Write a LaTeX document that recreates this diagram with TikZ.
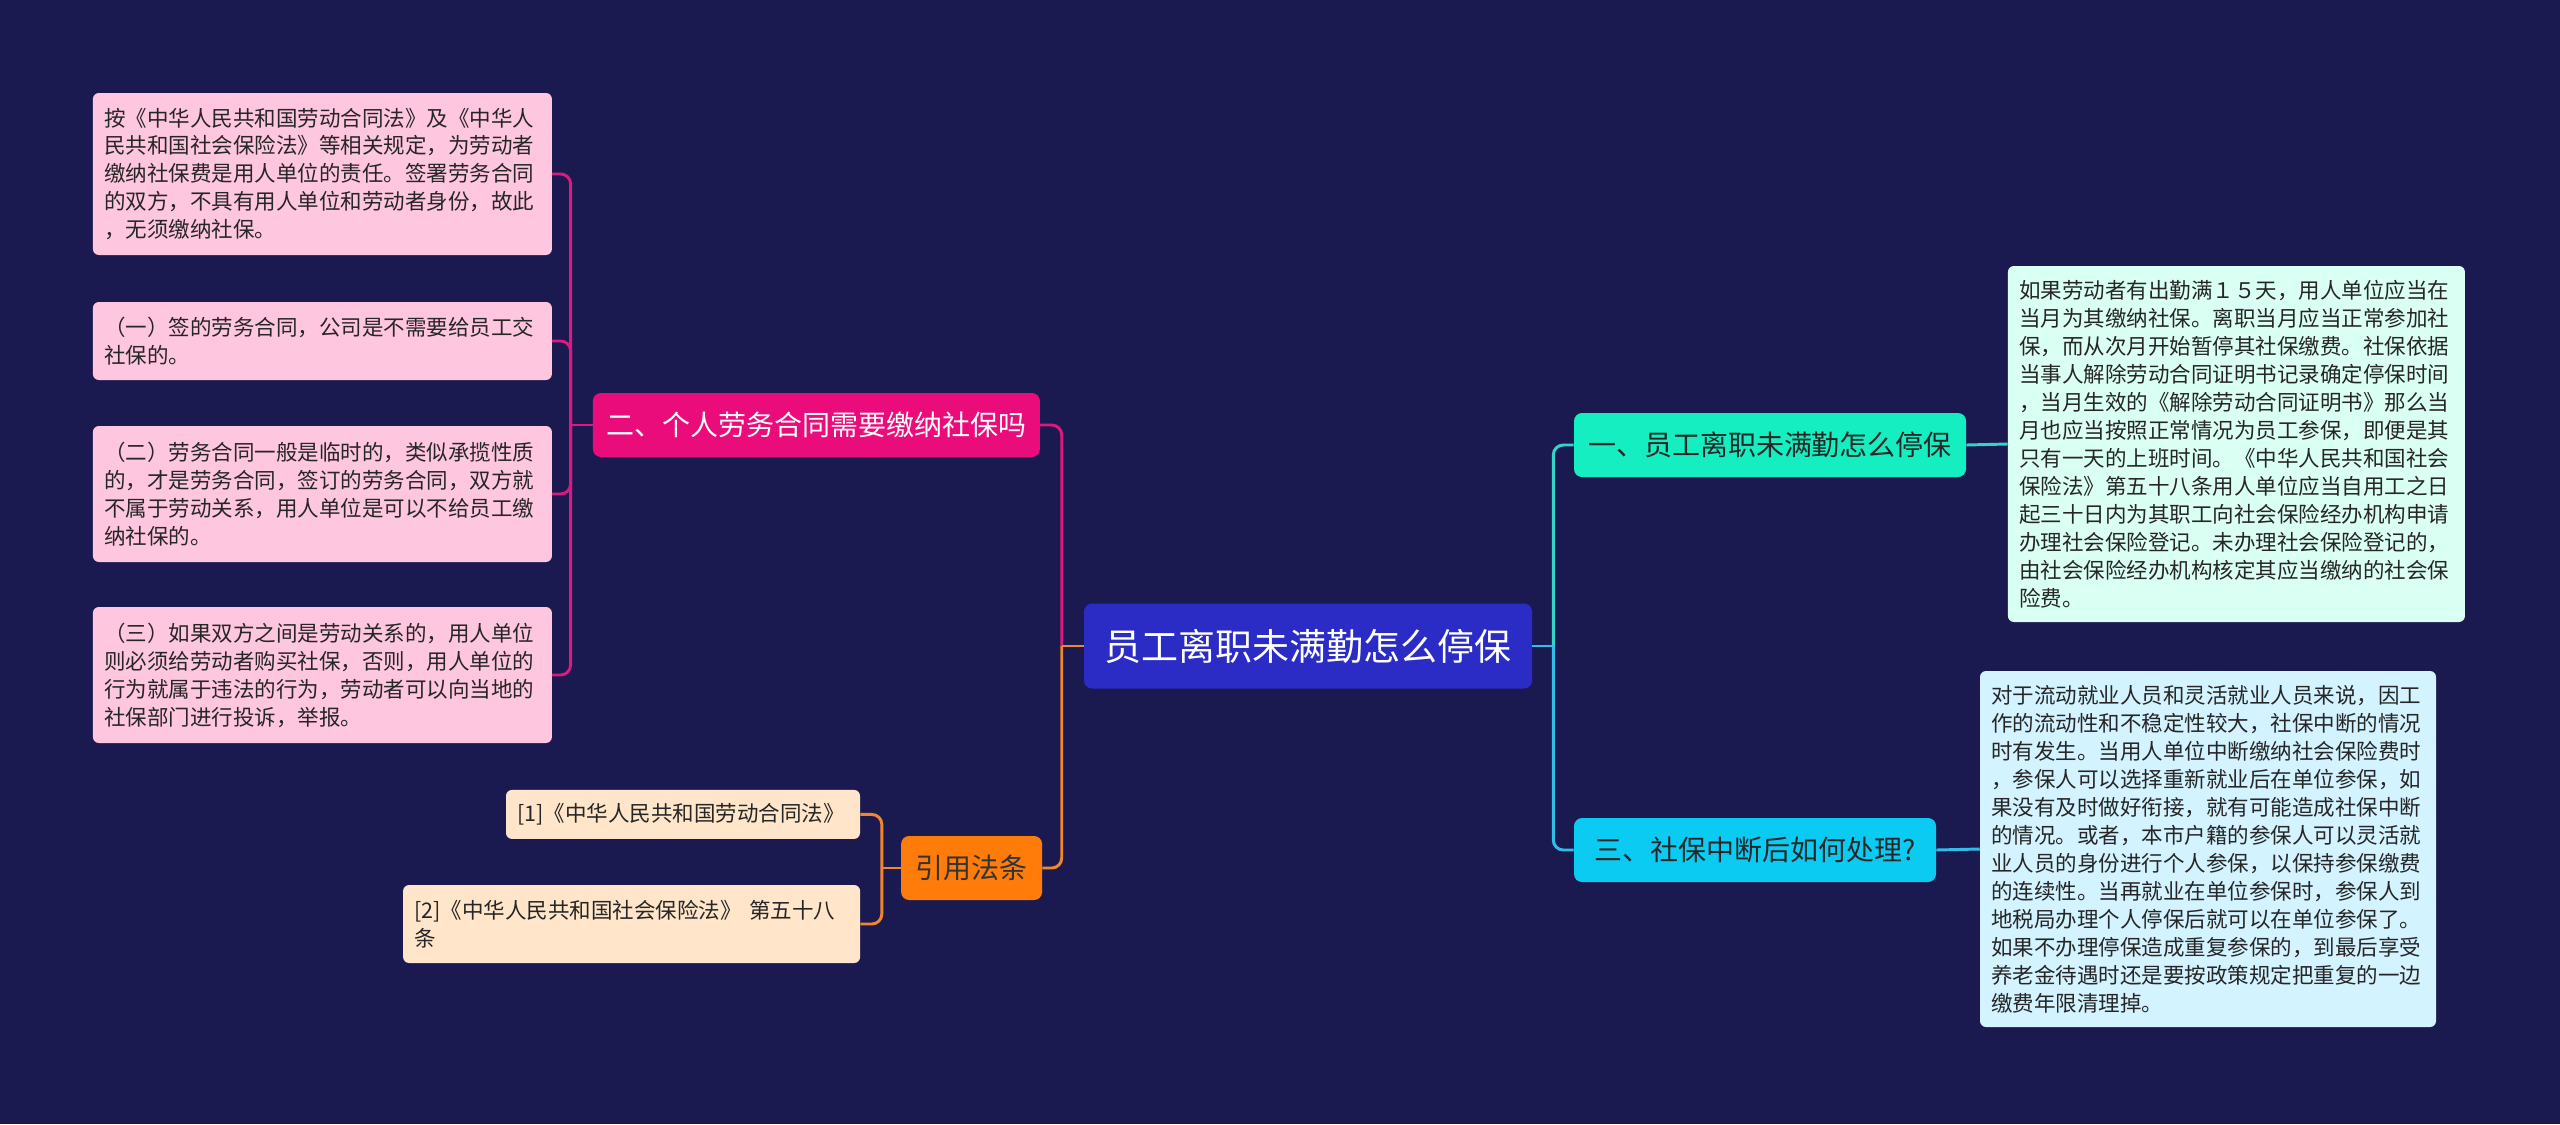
\documentclass[tikz,border=0pt]{standalone}
\usepackage{fontspec}
\setmainfont{Noto Sans CJK SC}
\usepackage{xcolor}
\usepackage{tikz}
\usetikzlibrary{arrows.meta,positioning,calc}

\definecolor{bgnavy}{HTML}{1B1A50}
\definecolor{rootblue}{HTML}{2B2BC6}
\definecolor{topicmint}{HTML}{14EEC0}
\definecolor{leafmint}{HTML}{DAFFF3}
\definecolor{topiccyan}{HTML}{0CCBF2}
\definecolor{leafcyan}{HTML}{D2F3FF}
\definecolor{topicpink}{HTML}{EB0C7C}
\definecolor{leafpink}{HTML}{FFC6DF}
\definecolor{topicorange}{HTML}{FF7B0A}
\definecolor{leafpeach}{HTML}{FFE5C9}
\definecolor{pinkline}{HTML}{DA1A80}
\definecolor{orangeline}{HTML}{F0862E}
\definecolor{tealline}{HTML}{36D4C8}
\definecolor{blueline}{HTML}{34BCE8}

\begin{document}
\begin{tikzpicture}[
    root/.style={rounded corners=0.2cm, fill=rootblue, text=white, minimum width=11.2cm, minimum height=2.125cm, font=\fontsize{26.3pt}{30pt}\selectfont},
    topic/.style={rounded corners=0.2cm, minimum height=1.6cm, inner xsep=0.3cm, font=\fontsize{19.9pt}{24pt}\selectfont},
    leaf/.style={rounded corners=0.15cm, align=left, inner xsep=0.28cm, inner ysep=0.2cm, font=\fontsize{15.3pt}{19.9pt}\selectfont},
    link/.style={line width=2.1pt, rounded corners=0.25cm}
]
  \fill[bgnavy] (0,0) rectangle (64,-28.1);
  \useasboundingbox (0,0) rectangle (64,-28.1);

  \node[root] (center) at (32.7,-16.15) {员工离职未满勤怎么停保};

  \node[topic, fill=topicmint, text=black!85, minimum width=9.8cm] (b1) at (44.25,-11.125) {一、员工离职未满勤怎么停保};
  \node[topic, fill=topiccyan, text=black!85, minimum width=9.05cm] (b3) at (43.875,-21.25) {三、社保中断后如何处理?};
  \node[topic, fill=topicpink, text=white, minimum width=11.175cm] (b2) at (20.41,-10.625) {二、个人劳务合同需要缴纳社保吗};
  \node[topic, fill=topicorange, text=black!80, minimum width=3.525cm] (b4) at (24.29,-21.7) {引用法条};

  \node[leaf, fill=leafmint, text=black!85, text width=10.865cm, minimum height=8.9cm] (t1) at (55.91,-11.1) {如果劳动者有出勤满１５天，用人单位应当在\\
当月为其缴纳社保。离职当月应当正常参加社\\
保，而从次月开始暂停其社保缴费。社保依据\\
当事人解除劳动合同证明书记录确定停保时间\\
，当月生效的《解除劳动合同证明书》那么当\\
月也应当按照正常情况为员工参保，即便是其\\
只有一天的上班时间。《中华人民共和国社会\\
保险法》第五十八条用人单位应当自用工之日\\
起三十日内为其职工向社会保险经办机构申请\\
办理社会保险登记。未办理社会保险登记的，\\
由社会保险经办机构核定其应当缴纳的社会保\\
险费。};

  \node[leaf, fill=leafcyan, text=black!85, text width=10.84cm, minimum height=8.9cm] (t3) at (55.2,-21.225) {对于流动就业人员和灵活就业人员来说，因工\\
作的流动性和不稳定性较大，社保中断的情况\\
时有发生。当用人单位中断缴纳社会保险费时\\
，参保人可以选择重新就业后在单位参保，如\\
果没有及时做好衔接，就有可能造成社保中断\\
的情况。或者，本市户籍的参保人可以灵活就\\
业人员的身份进行个人参保，以保持参保缴费\\
的连续性。当再就业在单位参保时，参保人到\\
地税局办理个人停保后就可以在单位参保了。\\
如果不办理停保造成重复参保的，到最后享受\\
养老金待遇时还是要按政策规定把重复的一边\\
缴费年限清理掉。};

  \node[leaf, fill=leafpink, text=black!85, text width=10.915cm, minimum height=4.05cm] (l1) at (8.06,-4.35) {按《中华人民共和国劳动合同法》及《中华人\\
民共和国社会保险法》等相关规定，为劳动者\\
缴纳社保费是用人单位的责任。签署劳务合同\\
的双方，不具有用人单位和劳动者身份，故此\\
，无须缴纳社保。};
  \node[leaf, fill=leafpink, text=black!85, text width=10.915cm, minimum height=1.95cm] (l2) at (8.06,-8.525) {（一）签的劳务合同，公司是不需要给员工交\\
社保的。};
  \node[leaf, fill=leafpink, text=black!85, text width=10.915cm, minimum height=3.4cm] (l3) at (8.06,-12.35) {（二）劳务合同一般是临时的，类似承揽性质\\
的，才是劳务合同，签订的劳务合同，双方就\\
不属于劳动关系，用人单位是可以不给员工缴\\
纳社保的。};
  \node[leaf, fill=leafpink, text=black!85, text width=10.915cm, minimum height=3.4cm] (l4) at (8.06,-16.875) {（三）如果双方之间是劳动关系的，用人单位\\
则必须给劳动者购买社保，否则，用人单位的\\
行为就属于违法的行为，劳动者可以向当地的\\
社保部门进行投诉，举报。};

  \node[leaf, fill=leafpeach, text=black!85, text width=8.29cm, minimum height=1.225cm] (r1) at (17.075,-20.36) {[1]《中华人民共和国劳动合同法》};
  \node[leaf, fill=leafpeach, text=black!85, text width=10.865cm, minimum height=1.95cm] (r2) at (15.79,-23.1) {[2]《中华人民共和国社会保险法》 第五十八\\
条};

  \coordinate (cl) at ($(center.west)+(-0.55,0)$);
  \coordinate (cr) at ($(center.east)+(0.525,0)$);
  \draw[link, pinkline] (cl) |- (b2.east);
  \draw[link, orangeline] (cl) |- (b4.east);
  \draw[link, orangeline] (center.west) -- (cl);
  \draw[link, tealline] (cr) |- (b1.west);
  \draw[link, blueline] (cr) |- (b3.west);
  \draw[link, blueline] (center.east) -- (cr);

  \coordinate (s2) at ($(b2.west)+(-0.55,0)$);
  \draw[link, pinkline] (b2.west) -- (s2);
  \foreach \n in {l1,l2,l3,l4}
    \draw[link, pinkline] (s2) |- (\n.east);

  \coordinate (s4) at ($(b4.west)+(-0.475,0)$);
  \draw[link, orangeline] (b4.west) -- (s4);
  \foreach \n in {r1,r2}
    \draw[link, orangeline] (s4) |- (\n.east);

  \draw[link, tealline] (b1.east) -- (t1.west);
  \draw[link, blueline] (b3.east) -- (t3.west);
\end{tikzpicture}
\end{document}
